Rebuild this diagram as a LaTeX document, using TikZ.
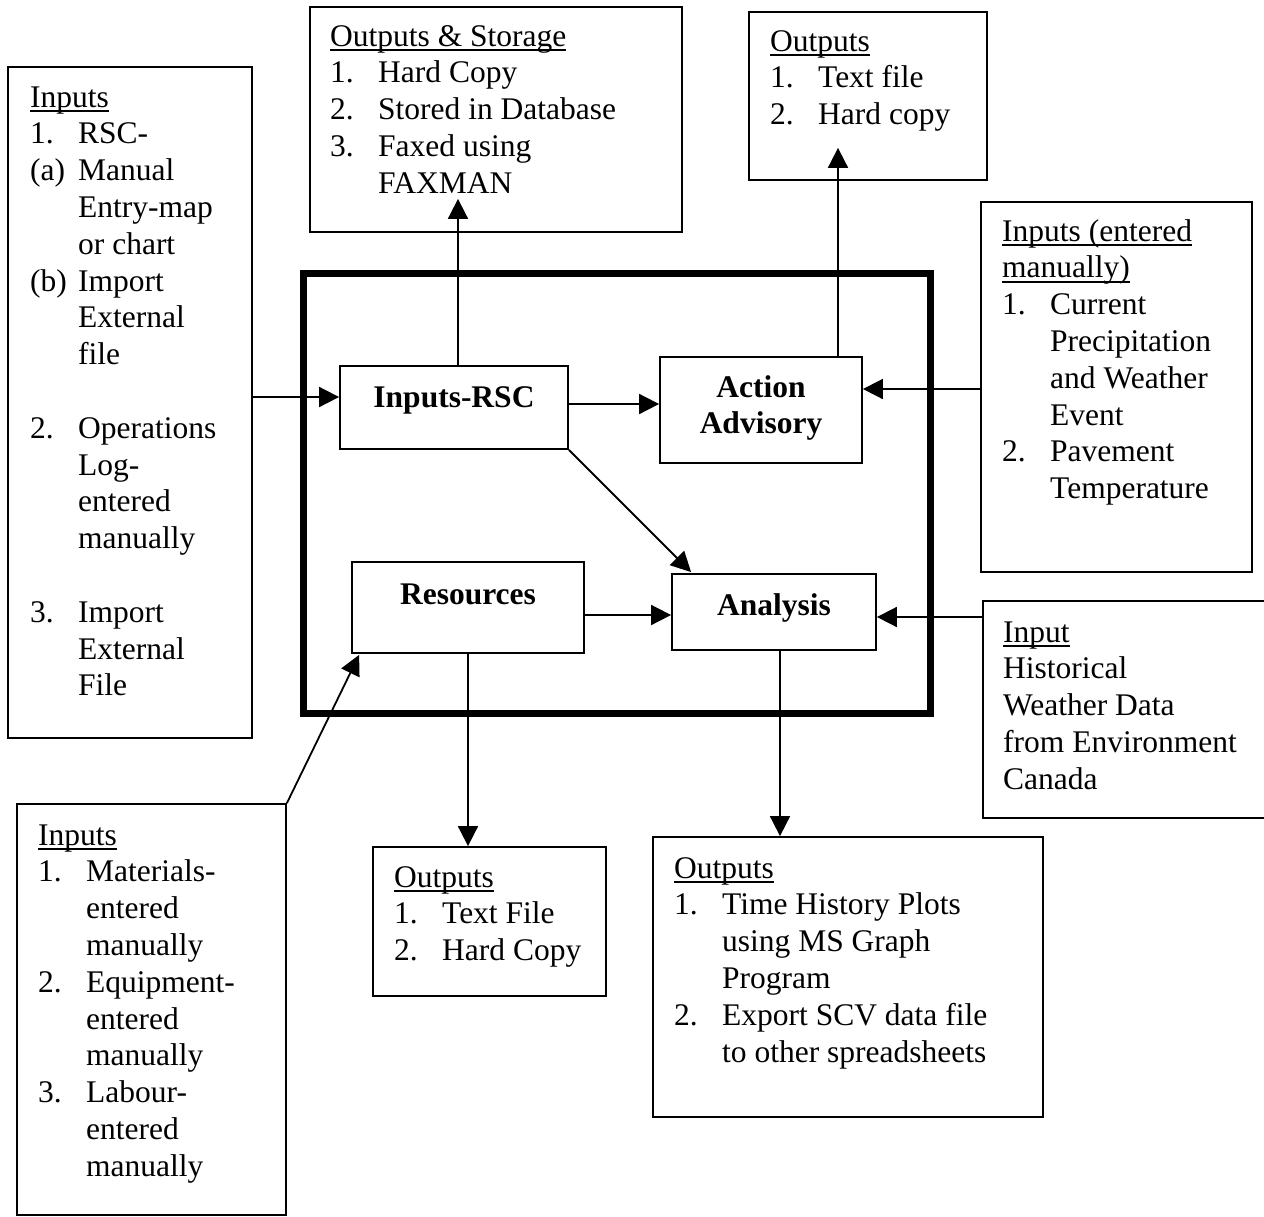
\documentclass[tikz,border=0pt]{standalone}
\usepackage{fontspec}
\setmainfont{Liberation Serif}
\usetikzlibrary{arrows.meta,calc}
\newlength\numw \setlength\numw{48pt}
\newsavebox\ulbox
\newcommand\ul[1]{\sbox\ulbox{#1}\rlap{\rule[-5pt]{\wd\ulbox}{1.6pt}}\usebox\ulbox}
\newcommand\Ln[2]{\hbox{\makebox[\numw][l]{#1}#2}}
\newcommand\Cn[1]{\hbox{\kern\numw #1}}
\newcommand\Pl[1]{\hbox{#1}}
\newcommand\Blk{\hbox{}}
\newcommand\Blockk[1]{\vtop{\fontsize{31.5}{36.8}\selectfont #1}}
\newcommand\Ctr[1]{\hbox to 0pt{\hss #1\hss}}
\tikzset{
  box/.style={draw, line width=1.8pt, rectangle, inner sep=0pt},
  arr/.style={line width=1.8pt, -{Triangle[length=20pt,width=20pt]}},
  txt/.style={anchor=base west, inner sep=0pt},
  ctxt/.style={anchor=base, inner sep=0pt}
}
\begin{document}
\begin{tikzpicture}[x=1pt,y=-1pt]
\fill[white] (0,0) rectangle (1264,1216);
\useasboundingbox (0,0) rectangle (1264,1216);
\clip (0,0) rectangle (1264,1216);

% outer boxes
\node[box, minimum width=244pt, minimum height=671pt] (inL) at (130,402.5) {};
\node[box, minimum width=372pt, minimum height=225pt] (outS) at (496,119.5) {};
\node[box, minimum width=238pt, minimum height=168pt] (outR) at (868,96) {};
\node[box, minimum width=271pt, minimum height=370pt] (inE) at (1116.5,387) {};
\node[box, minimum width=289pt, minimum height=217pt] (inH) at (1127.5,709.5) {};
\node[box, minimum width=269pt, minimum height=411pt] (inB) at (151.5,1009.5) {};
\node[box, minimum width=233pt, minimum height=149pt] (outB1) at (489.5,921.5) {};
\node[box, minimum width=390pt, minimum height=280pt] (outB2) at (848,977) {};

% frame and process boxes
\node[draw, line width=7pt, inner sep=0pt, minimum width=627pt, minimum height=440pt] (frame) at (616.5,493) {};
\node[box, minimum width=228pt, minimum height=83pt] (rsc) at (454,407.5) {};
\node[box, minimum width=202pt, minimum height=106pt] (act) at (761,410) {};
\node[box, minimum width=232pt, minimum height=91pt] (res) at (468,607.5) {};
\node[box, minimum width=204pt, minimum height=76pt] (ana) at (774,612) {};

% texts
\node[txt] (inLt) at (30,107) {\Blockk{%
  \Pl{\ul{Inputs}}
  \Ln{1.}{RSC-}
  \Ln{(a)}{Manual}
  \Cn{Entry-map}
  \Cn{or chart}
  \Ln{(b)}{Import}
  \Cn{External}
  \Cn{file}
  \Blk
  \Ln{2.}{Operations}
  \Cn{Log-}
  \Cn{entered}
  \Cn{manually}
  \Blk
  \Ln{3.}{Import}
  \Cn{External}
  \Cn{File}}};
\node[txt] (outSt) at (330,46) {\Blockk{%
  \Pl{\ul{Outputs \& Storage}}
  \Ln{1.}{Hard Copy}
  \Ln{2.}{Stored in Database}
  \Ln{3.}{Faxed using}
  \Cn{FAXMAN}}};
\node[txt] (outRt) at (770,51) {\Blockk{%
  \Pl{\ul{Outputs}}
  \Ln{1.}{Text file}
  \Ln{2.}{Hard copy}}};
\node[txt] (inEt) at (1002,241) {\Blockk{%
  \Pl{\ul{Inputs (entered}}
  \Pl{\ul{manually)}}
  \Ln{1.}{Current}
  \Cn{Precipitation}
  \Cn{and Weather}
  \Cn{Event}
  \Ln{2.}{Pavement}
  \Cn{Temperature}}};
\node[txt] (inHt) at (1003,642) {\Blockk{%
  \Pl{\ul{Input}}
  \Pl{Historical}
  \Pl{Weather Data}
  \Pl{from Environment}
  \Pl{Canada}}};
\node[txt] (inBt) at (38,845) {\Blockk{%
  \Pl{\ul{Inputs}}
  \Ln{1.}{Materials-}
  \Cn{entered}
  \Cn{manually}
  \Ln{2.}{Equipment-}
  \Cn{entered}
  \Cn{manually}
  \Ln{3.}{Labour-}
  \Cn{entered}
  \Cn{manually}}};
\node[txt] (outB1t) at (394,887) {\Blockk{%
  \Pl{\ul{Outputs}}
  \Ln{1.}{Text File}
  \Ln{2.}{Hard Copy}}};
\node[txt] (outB2t) at (674,878) {\Blockk{%
  \Pl{\ul{Outputs}}
  \Ln{1.}{Time History Plots}
  \Cn{using MS Graph}
  \Cn{Program}
  \Ln{2.}{Export SCV data file}
  \Cn{to other spreadsheets}}};

\node[ctxt] (rsct) at (454,407) {\Blockk{\bfseries\Ctr{Inputs-RSC}}};
\node[ctxt] (actt) at (761,397) {\Blockk{\bfseries\Ctr{Action}\Ctr{Advisory}}};
\node[ctxt] (rest) at (468,604) {\Blockk{\bfseries\Ctr{Resources}}};
\node[ctxt] (anat) at (774,615) {\Blockk{\bfseries\Ctr{Analysis}}};

% connectors
\draw[arr] ([yshift=10.5pt]rsc.west -| inL.east) -- ([yshift=10.5pt]rsc.west);
\draw[arr] ([xshift=4pt]rsc.north) -- ($(outS.south)+(-38,-34)$);
\draw[arr] ([yshift=3.5pt]rsc.east) -- ([yshift=3.5pt]rsc.east -| act.west);
\draw[arr] ([xshift=77pt]act.north) -- ($(outR.south)+(-30,-33)$);
\draw[arr] ([yshift=21pt]act.east -| inE.west) -- ([yshift=21pt]act.east);
\draw[arr] (rsc.south east) -- ($(ana.north west)+(20,-1)$);
\draw[arr] ([yshift=-7.5pt]res.east) -- ([yshift=-7.5pt]res.east -| ana.west);
\draw[arr] ([yshift=-5pt]ana.east -| inH.west) -- ([yshift=-5pt]ana.east);
\draw[arr] (res.south) -- (res.south |- outB1.north);
\draw[arr] ([xshift=6pt]ana.south) -- ([xshift=6pt]ana.south |- outB2.north);
\draw[arr] (inB.north east) -- ($(res.south west)+(8,1)$);
\end{tikzpicture}
\end{document}
